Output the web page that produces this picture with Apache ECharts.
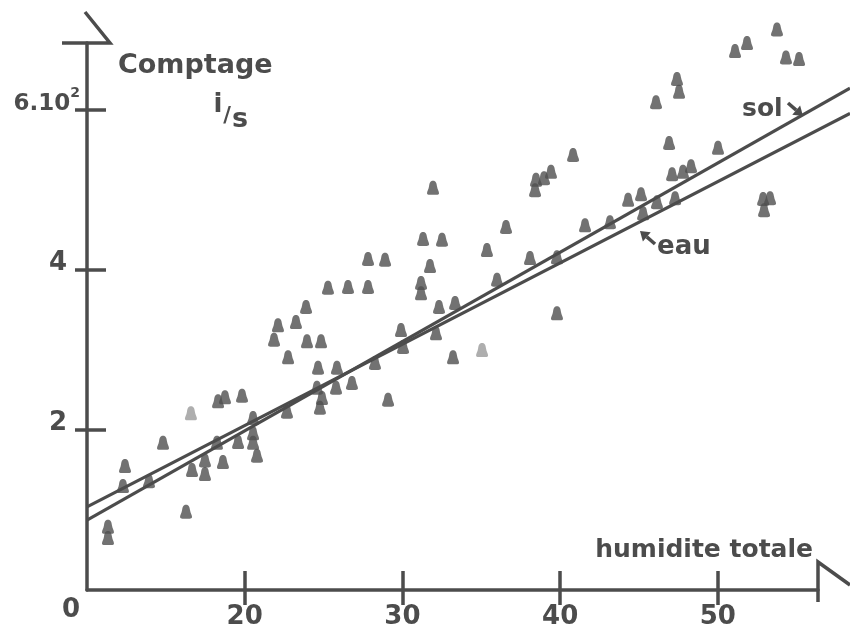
<!DOCTYPE html>
<html><head><meta charset="utf-8">
<script src="https://cdn.jsdelivr.net/npm/echarts@6/dist/echarts.min.js"></script>
<style>html,body{margin:0;padding:0;background:#fff}#c{width:850px;height:641px}</style>
</head><body><div id="c"></div><script>
// ---- data ----
const xTicks = [20, 30, 40, 50];
const yTicks = [2, 4, 6];
const yLabelValues = [0, 2, 4, 6];
const points = [
[11.33,0.79],[11.33,0.65],[12.41,1.55],[12.28,1.30],[13.93,1.36],[14.82,1.84],[16.28,0.98],
[18.31,2.36],[18.75,2.41],[19.83,2.43],[16.66,1.50],[17.48,1.45],[17.48,1.62],[18.24,1.84],[18.62,1.60],[19.58,1.85],
[20.53,2.15],[20.53,1.96],[20.53,1.84],[20.78,1.68],[22.68,2.23],[22.11,3.31],[23.25,3.35],[21.86,3.13],[22.75,2.91],
[31.94,5.03],[36.57,4.54],[31.31,4.39],[32.51,4.38],[35.36,4.25],[27.82,4.14],[28.90,4.13],[31.75,4.05],
[25.28,3.78],[26.55,3.79],[27.82,3.79],[31.18,3.84],[31.18,3.71],[23.89,3.54],[23.95,3.11],[24.84,3.11],
[24.65,2.78],[25.85,2.78],[24.58,2.53],[25.79,2.53],[26.80,2.59],[24.90,2.40],[24.77,2.28],[29.09,2.38],
[28.26,2.84],[29.91,3.25],[30.04,3.04],[32.13,3.21],[32.32,3.54],[33.34,3.59],[33.21,2.91],[36.00,3.88],
[38.09,4.15],[39.80,4.16],[39.80,3.46],[40.82,5.44],[38.41,5.00],[38.47,5.13],[38.98,5.15],[39.42,5.23],[41.58,4.56],
[53.75,7.01],[51.09,6.74],[51.85,6.84],[54.32,6.66],[55.15,6.64],[47.41,6.39],[47.54,6.23],[46.08,6.10],[46.91,5.59],
[50.01,5.53],[47.10,5.20],[47.79,5.23],[48.30,5.30],[44.31,4.88],[45.13,4.95],[46.14,4.85],[47.29,4.90],[43.16,4.60],[45.26,4.71],
[52.87,4.89],[53.31,4.90],[52.93,4.75]
];
const palePoints = [[16.59,2.21],[35.05,3.00]];
const solLine = [[10,0.875],[58.38,6.275]];
const eauLine = [[10,1.04],[58.38,5.96]];

// ---- style ----
const ink = '#4c4c4c';
const FF = '"DejaVu Sans", sans-serif';
const bell = 'path://M5,0 C7.5,0 8,2.5 8.3,5 C8.7,8 10,9.5 10,11.5 C10,12.5 9,13 8,13 L2,13 C1,13 0,12.5 0,11.5 C0,9.5 1.3,8 1.7,5 C2,2.5 2.5,0 5,0 Z';

function arrow(x1, y1, x2, y2) {
  const ang = Math.atan2(y2 - y1, x2 - x1);
  const L = 9, W = 6;
  const bx = x2 - L * Math.cos(ang), by = y2 - L * Math.sin(ang);
  const px = -Math.sin(ang) * W, py = Math.cos(ang) * W;
  return [
    {type:'line', shape:{x1:x1, y1:y1, x2:bx, y2:by}, style:{stroke:ink, lineWidth:3.5}},
    {type:'polygon', shape:{points:[[x2,y2],[bx+px,by+py],[bx-px,by-py]]}, style:{fill:ink}}
  ];
}

const chart = echarts.init(document.getElementById('c'), null, {renderer:'canvas'});
const axisLineStyle = {color:ink, width:3.5};
const hidden = {axisLine:{show:false, onZero:false}, axisTick:{show:false}, axisLabel:{show:false}, splitLine:{show:false}};
const option = {
  animation:false,
  backgroundColor:'#ffffff',
  grid:[
    {left:87, right:32, top:43, bottom:51, containLabel:false, outerBoundsMode:'none'},
    {left:87, right:0, top:43, bottom:51, containLabel:false, outerBoundsMode:'none'}
  ],
  xAxis:[
    {type:'value', gridIndex:0, min:10, max:56.35, position:'bottom',
     axisLine:{show:true, onZero:false, lineStyle:axisLineStyle},
     axisTick:{show:true, inside:false, length:15, customValues:xTicks, lineStyle:{color:ink, width:3.5}},
     axisLabel:{show:true, customValues:xTicks, margin:14, color:ink, fontFamily:FF, fontWeight:'bold', fontSize:26},
     splitLine:{show:false}},
    {type:'value', gridIndex:0, min:10, max:56.35, position:'bottom',
     axisLine:{show:false, onZero:false},
     axisTick:{show:true, inside:true, length:19, customValues:xTicks, lineStyle:{color:ink, width:3.5}},
     axisLabel:{show:false}, splitLine:{show:false}},
    Object.assign({type:'value', gridIndex:1, min:10, max:58.38}, hidden)
  ],
  yAxis:[
    {type:'value', gridIndex:0, min:0, max:6.84, position:'left',
     axisLine:{show:true, onZero:false, lineStyle:axisLineStyle},
     axisTick:{show:true, inside:false, length:12, customValues:yTicks, lineStyle:{color:ink, width:3.5}},
     axisLabel:{show:true, customValues:yLabelValues, margin:7, color:ink, fontFamily:FF, fontWeight:'bold',
       formatter:function(v){
         if (v === 0) return '{z|0}';
         if (v === 6) return '{a|6.10}{s|2}';
         return '{n|' + v + '}';
       },
       rich:{
         z:{fontSize:26, fontWeight:'bold', fontFamily:FF, color:ink, padding:[40,0,0,0]},
         n:{fontSize:26, fontWeight:'bold', fontFamily:FF, color:ink, padding:[0,13,14,0]},
         a:{fontSize:23, fontWeight:'bold', fontFamily:FF, color:ink, padding:[6,0,18,0]},
         s:{fontSize:14, fontWeight:'bold', fontFamily:FF, color:ink, verticalAlign:'top'}
       }},
     splitLine:{show:false}},
    {type:'value', gridIndex:0, min:0, max:6.84, position:'left',
     axisLine:{show:false, onZero:false},
     axisTick:{show:true, inside:true, length:19, customValues:yTicks, lineStyle:{color:ink, width:3.5}},
     axisLabel:{show:false}, splitLine:{show:false}},
    Object.assign({type:'value', gridIndex:1, min:0, max:6.84}, hidden)
  ],
  series:[
    {name:'sol', type:'line', xAxisIndex:2, yAxisIndex:2, data:solLine, showSymbol:false, symbol:'none', clip:false, silent:true,
     lineStyle:{color:ink, width:3.2}},
    {name:'eau', type:'line', xAxisIndex:2, yAxisIndex:2, data:eauLine, showSymbol:false, symbol:'none', clip:false, silent:true,
     lineStyle:{color:ink, width:3.2}},
    {name:'points', type:'scatter', xAxisIndex:0, yAxisIndex:0, data:points, symbol:bell, symbolSize:[12,14], clip:false,
     itemStyle:{color:'#4f4f4f'}},
    {name:'pale', type:'scatter', xAxisIndex:0, yAxisIndex:0, data:palePoints, symbol:bell, symbolSize:[12,14], clip:false,
     itemStyle:{color:'#9a9a9a'}}
  ],
  graphic:[
    {type:'polyline', shape:{points:[[62,43],[110,43],[85,12]]}, style:{stroke:ink, lineWidth:3.5, fill:null}},
    {type:'polyline', shape:{points:[[818,602],[818,562],[850,585]]}, style:{stroke:ink, lineWidth:3.5, fill:null}},
    {type:'text', x:118, y:66, style:{text:'Comptage', font:'bold 27px ' + FF, fill:ink, align:'left', verticalAlign:'middle'}},
    {type:'text', x:218, y:105, style:{text:'i', font:'bold 26px ' + FF, fill:ink, align:'center', verticalAlign:'middle'}},
    {type:'text', x:227, y:117, style:{text:'/', font:'bold 21px ' + FF, fill:ink, align:'center', verticalAlign:'middle'}},
    {type:'text', x:240, y:120, style:{text:'s', font:'bold 27px ' + FF, fill:ink, align:'center', verticalAlign:'middle'}},
    {type:'text', x:813, y:550, style:{text:'humidite totale', font:'bold 25px ' + FF, fill:ink, align:'right', verticalAlign:'middle'}},
    {type:'text', x:742, y:109, style:{text:'sol', font:'bold 25px ' + FF, fill:ink, align:'left', verticalAlign:'middle'}},
    {type:'text', x:657, y:247, style:{text:'eau', font:'bold 26px ' + FF, fill:ink, align:'left', verticalAlign:'middle'}}
  ].concat(arrow(788,103,803,116)).concat(arrow(655,244,640,231))
};
chart.setOption(option);
</script></body></html>
